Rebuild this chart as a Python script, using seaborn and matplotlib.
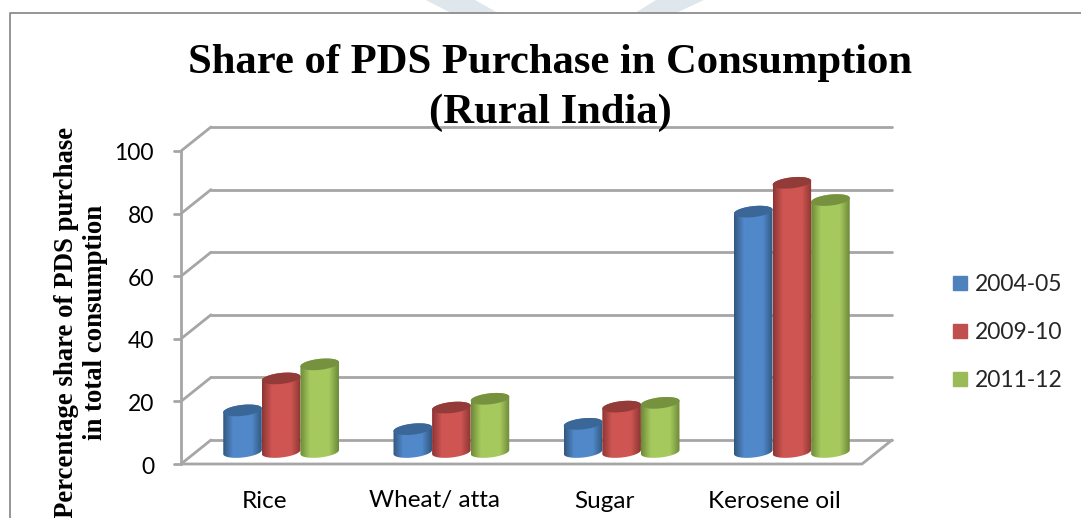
import numpy as np
import pandas as pd
import matplotlib
matplotlib.use('Agg')
import matplotlib.pyplot as plt
from matplotlib.patches import Polygon, Rectangle
from matplotlib.colors import LinearSegmentedColormap
import seaborn as sns

# === Data
items = ['Rice', 'Wheat/ atta', 'Sugar', 'Kerosene oil']
years = ['2004-05', '2009-10', '2011-12']
share_2004 = [13.3, 7.3, 9, 76.8]
share_2009 = [23.5, 14.2, 14.5, 86]
share_2011 = [28, 17, 15.7, 80.5]
y_ticks = [0, 20, 40, 60, 80, 100]

colors = ['#4f81bd', '#c0504d', '#9bbb59']
light = ['#5088ca', '#cf5552', '#a6c95e']
dark = ['#33587f', '#8c3634', '#6d8a38']
top_col = ['#3a6797', '#933b39', '#76923f']
grid_col = '#a6a6a6'

df = pd.DataFrame({'item': items * 3,
                   'year': np.repeat(years, 4),
                   'share': share_2004 + share_2009 + share_2011})

W, H = 1081, 518
# front plane of the 3d box, in pixels
x0, x1 = 181, 862
y0, y100 = 464, 151
dx, dy = 30, 24
px_y = (y0 - y100) / 100


def add_plane(fig, ox, oy):
    ax = fig.add_axes([(x0 + ox) / W, 1 - (y0 - oy) / H, (x1 - x0) / W, (y0 - y100) / H])
    ax.patch.set_alpha(0)
    ax.set_ylim(0, 100)
    for s in ax.spines.values():
        s.set_visible(False)
    return ax


def fig_text(x, y, s, **kw):
    fig.text(x / W, 1 - y / H, s, ha='center', va='center', color='black', **kw)


sns.set_style('white')
fig = plt.figure(figsize=(W / 100, H / 100), dpi=100)

# === Watermark and page frame
bg = fig.add_axes([0, 0, 1, 1])
bg.set_xlim(0, W)
bg.set_ylim(H, 0)
bg.axis('off')
bg.add_patch(Polygon([(426, 0), (475, 0), (498, 13), (451, 13)], color='#dfe7ec', lw=0))
bg.add_patch(Polygon([(635, 13), (676, 13), (704, 0), (656, 0)], color='#dfe7ec', lw=0))
bg.plot([10, 10, 1081], [518, 13, 13], color='#8c8c8c', lw=1.3)

# === Back wall gridlines
back = add_plane(fig, dx, dy)
back.set_xticks([])
back.set_yticks(y_ticks)
back.set_yticklabels([])
back.tick_params(length=0)
back.grid(axis='y', color=grid_col, lw=2, clip_on=False)
back.set_axisbelow(True)

# === Box edges
bg.plot([x0, x0], [y0, y100], color=grid_col, lw=2)
bg.plot([x0, x1, x1 + dx], [y0, y0, y0 - dy], color=grid_col, lw=2)
for t in y_ticks:
    yp = y0 - px_y * t
    bg.plot([x0, x0 + dx], [yp, yp - dy], color=grid_col, lw=2)
    bg.plot([x0 - 7, x0], [yp, yp], color=grid_col, lw=2)
    bg.text(x0 - 27, yp + 1, str(t), ha='right', va='center_baseline', fontsize=16.5,
            family='Lato', color='black')

# === Bars on the middle plane of the box
ax = add_plane(fig, dx / 2, dy / 2)
sns.barplot(data=df, x='item', y='share', hue='year', hue_order=years, palette=colors,
            width=0.68, gap=0, saturation=1, legend=False, ax=ax)
ax.set_xlim(-0.5, 3.5)
ax.set_ylim(0, 100)
ax.set_xlabel('')
ax.set_ylabel('')
ax.set_xticks([])
ax.set_yticks([])

# redo each bar as a shaded, slightly tilted cylinder
t = np.linspace(0, 2 * np.pi, 80)
half_cap = 5.5 / px_y
tilt = 2 / px_y
for i, year in enumerate(years):
    cmap = LinearSegmentedColormap.from_list('c', [dark[i], light[i], light[i], light[i], dark[i]])
    for bar in ax.containers[i]:
        bx, bw, bh = bar.get_x(), bar.get_width(), bar.get_height()
        bar.set_visible(False)
        rx = bx + bw / 2
        ex = rx + bw / 2 * np.cos(t)
        ey = half_cap * np.sin(t) + tilt * np.cos(t)
        # outline: lower half of the base ellipse, then upper half of the top one
        low = np.sin(t) <= 0
        base = sorted(zip(ex[low], ey[low]))
        up = sorted(zip(ex[~low], ey[~low] + bh), reverse=True)
        body = Polygon(base + up, transform=ax.transData, fc='none', ec='none')
        ax.add_patch(body)
        im = ax.imshow(np.linspace(0, 1, 64).reshape(1, -1), cmap=cmap, aspect='auto',
                       extent=[bx, bx + bw, -half_cap - tilt, bh + half_cap + tilt],
                       zorder=3 + i)
        im.set_clip_box(fig.bbox)
        im.set_clip_path(body)
        ax.add_patch(Polygon(np.column_stack([ex, ey + bh]), fc=top_col[i], ec='none', zorder=3 + i))
ax.set_xlim(-0.5, 3.5)
ax.set_ylim(0, 100)

# === Category labels
for k, name in enumerate(items):
    fig_text(x0 + (x1 - x0) * (k + 0.5) / 4 - 2, 501, name, fontsize=17.5, family='Lato')

# === Titles
title_kw = dict(fontsize=30.7, fontweight='bold', family='Liberation Serif')
fig_text(550, 63, 'Share of PDS Purchase in Consumption', **title_kw)
fig_text(550, 113, '(Rural India)', **title_kw)
label_kw = dict(fontsize=19.3, fontweight='bold', family='Liberation Serif', rotation=90)
fig_text(67, 322, 'Percentage share of PDS purchase', **label_kw)
fig_text(96, 322, 'in total consumption', **label_kw)

# === Legend
handles = [Rectangle((0, 0), 1, 1, color=c) for c in colors]
bg.legend(handles, years, loc='upper left', bbox_to_anchor=(953 / W, 1 - 274 / H), frameon=False,
          prop={'family': 'Lato', 'size': 16.5}, handlelength=0.62, handleheight=0.62,
          handletextpad=0.35, labelspacing=1.18, borderpad=0, borderaxespad=0)

fig.savefig('out.png', dpi=100)
